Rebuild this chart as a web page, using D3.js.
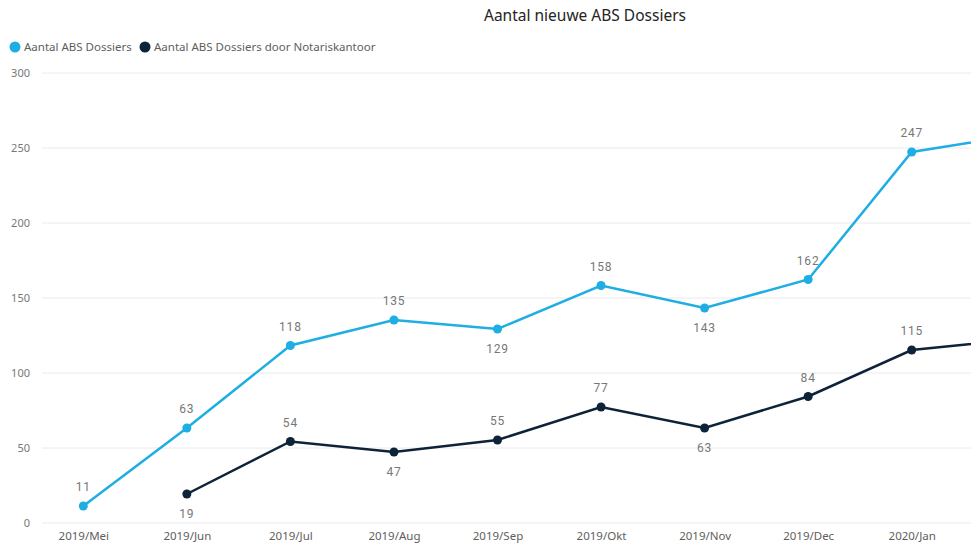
<!DOCTYPE html>
<html lang="nl">
<head>
  <meta charset="UTF-8">
  <title>Aantal nieuwe ABS Dossiers</title>
  <style>
    body { margin: 0; background: #fff; }
    svg { display: block; }
  </style>
</head>
<body>
  <div id="chart"></div>
  <script src="https://d3js.org/d3.v7.min.js"></script>
  <script>
    const width = 971
    const height = 545

    // data (the last month is partly out of view in the original)
    const months = ['2019/Mei', '2019/Jun', '2019/Jul', '2019/Aug', '2019/Sep',
      '2019/Okt', '2019/Nov', '2019/Dec', '2020/Jan', '2020/Feb']
    const dossiers = [11, 63, 118, 135, 129, 158, 143, 162, 247, 258]
    const dossiersNotaris = [null, 19, 54, 47, 55, 77, 63, 84, 115, 122]
    const yTicks = [0, 50, 100, 150, 200, 250, 300]
    // label placement, as drawn by the report
    const dossiersLabelPos = ['up', 'up', 'up', 'up', 'down', 'up', 'down', 'up', 'up', 'up']
    const notarisLabelPos = ['up', 'down', 'up', 'down', 'up', 'up', 'down', 'up', 'up', 'up']

    const series = [
      { name: 'Aantal ABS Dossiers', values: dossiers, pos: dossiersLabelPos, color: '#1FAEE3' },
      { name: 'Aantal ABS Dossiers door Notariskantoor', values: dossiersNotaris, pos: notarisLabelPos, color: '#0E2238' }
    ]

    const font = '"Segoe UI", "Noto Sans", sans-serif'
    const labelFont = 'Roboto, "DejaVu Sans Condensed", sans-serif'

    const svg = d3.select('#chart').append('svg')
      .attr('width', width)
      .attr('height', height)

    const x = d3.scalePoint()
      .domain(months)
      .range([83.3, 83.3 + 103.55 * (months.length - 1)])

    const y = d3.scaleLinear()
      .domain([0, 300])
      .range([522.5, 72.5])

    // only what fits in the visual gets a text
    const inView = m => x(m) < width - 20

    // title
    svg.append('text')
      .attr('x', 585)
      .attr('y', 21)
      .attr('text-anchor', 'middle')
      .attr('font-family', font)
      .attr('font-size', 15.5)
      .attr('fill', '#252423')
      .text('Aantal nieuwe ABS Dossiers')

    // legend
    const legend = svg.append('g').attr('transform', 'translate(15, 47)')
    const legendX = [0, 130]
    series.forEach((s, i) => {
      const item = legend.append('g').attr('transform', `translate(${legendX[i]}, 0)`)
      item.append('circle').attr('r', 5.5).attr('fill', s.color)
      item.append('text')
        .attr('x', 9)
        .attr('dy', '0.35em')
        .attr('font-family', font)
        .attr('font-size', 11.5)
        .attr('fill', '#605E5C')
        .text(s.name)
    })

    // y axis + grid
    const yAxis = svg.append('g')
      .attr('transform', 'translate(42, 0)')
      .call(d3.axisLeft(y).tickValues(yTicks).tickSize(-(width - 42)).tickPadding(12))
    yAxis.select('.domain').remove()
    yAxis.selectAll('.tick line').attr('stroke', '#EAEAEA').attr('stroke-width', 1)
    yAxis.selectAll('.tick text')
      .attr('font-family', font)
      .attr('font-size', 11)
      .attr('fill', '#777')

    // x axis
    const xAxis = svg.append('g')
      .attr('transform', 'translate(0, 522.5)')
      .call(d3.axisBottom(x).tickValues(months.filter(inView)).tickSize(0).tickPadding(9))
    xAxis.select('.domain').remove()
    xAxis.selectAll('.tick text')
      .attr('font-family', font)
      .attr('font-size', 11.5)
      .attr('fill', '#605E5C')

    const line = d3.line()
      .defined(d => d != null)
      .x((d, i) => x(months[i]))
      .y(d => y(d))

    series.forEach(s => {
      const g = svg.append('g')
      g.append('path')
        .datum(s.values)
        .attr('d', line)
        .attr('fill', 'none')
        .attr('stroke', s.color)
        .attr('stroke-width', 2.5)

      const pts = s.values.map((v, i) => ({ v, i })).filter(d => d.v != null)

      g.selectAll('circle')
        .data(pts)
        .join('circle')
        .attr('cx', d => x(months[d.i]))
        .attr('cy', d => y(d.v))
        .attr('r', 4.5)
        .attr('fill', s.color)

      g.selectAll('text')
        .data(pts.filter(d => inView(months[d.i])))
        .join('text')
        .attr('x', d => x(months[d.i]))
        .attr('y', d => y(d.v) + (s.pos[d.i] === 'up' ? -19 : 20))
        .attr('dy', '0.35em')
        .attr('text-anchor', 'middle')
        .attr('font-family', labelFont)
        .attr('font-size', 12)
        .attr('letter-spacing', 0.8)
        .attr('fill', '#777')
        .text(d => d.v)
    })
  </script>
</body>
</html>
